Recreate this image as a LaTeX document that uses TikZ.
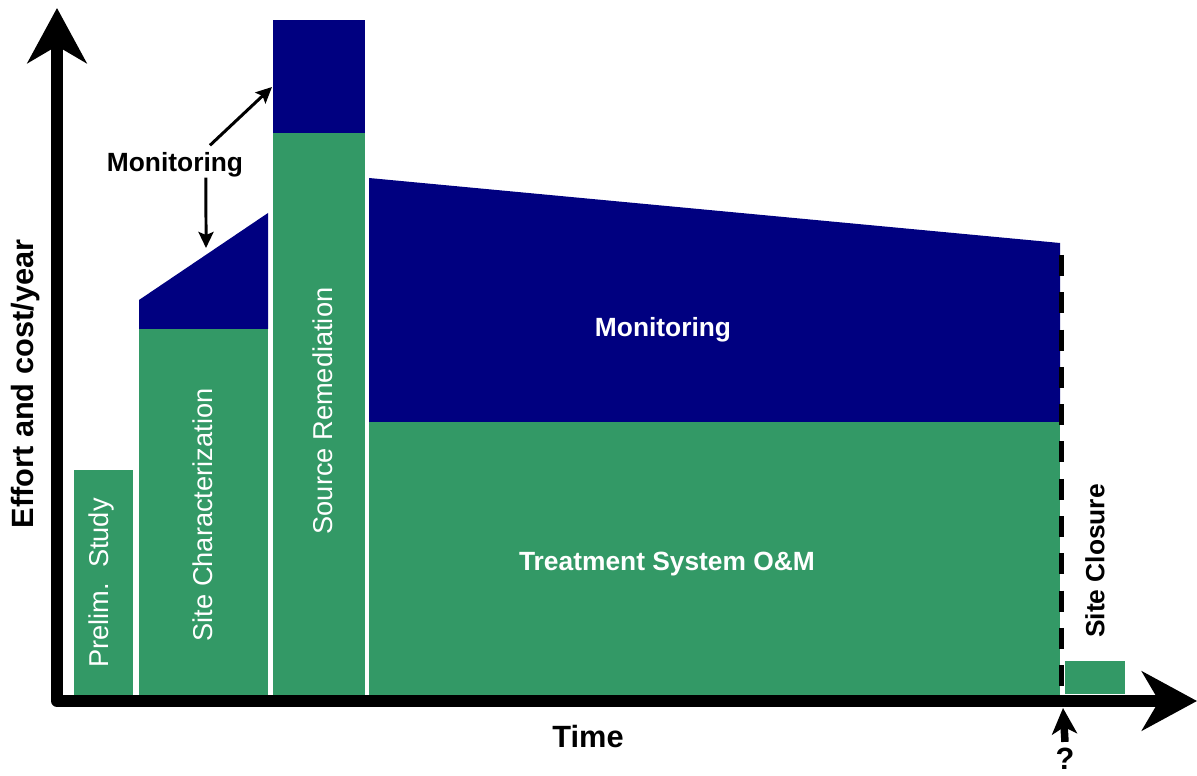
\documentclass[tikz,border=0pt]{standalone}
\usepackage{fontspec}
\setmainfont{Liberation Sans}
\usetikzlibrary{arrows.meta}
\definecolor{phasegreen}{RGB}{51,153,102}
\definecolor{monblue}{RGB}{0,0,128}
\tikzset{
  bigaxis/.style={line width=0.24cm, line join=round,
    {Stealth[length=1.1cm,width=1.18cm,inset=0.34cm]}-{Stealth[length=1.1cm,width=1.18cm,inset=0.34cm]}},
  thinarrow/.style={line width=0.06cm, -{Stealth[length=0.32cm,width=0.3cm,inset=0.06cm]}},
  qarrow/.style={line width=0.15cm, -{Stealth[length=0.52cm,width=0.5cm,inset=0.14cm]}},
  barlabel/.style={text=white, inner sep=0, rotate=90, font=\fontsize{15.5}{18}\selectfont},
  whitelabel/.style={text=white, inner sep=0, font=\bfseries\fontsize{15}{18}\selectfont},
  blacklabel/.style={text=black, inner sep=0, font=\bfseries\fontsize{15}{18}\selectfont},
  axislabel/.style={inner sep=0, font=\bfseries\fontsize{17.5}{21}\selectfont}
}
\begin{document}
\begin{tikzpicture}[x=0.02cm,y=-0.02cm]
            \useasboundingbox (0,0) rectangle (1197,776);
            % phases
            \fill[phasegreen] (74,470) rectangle (133,695);
            \fill[phasegreen] (139,329) rectangle (268,695);
            \fill[monblue] (139,300) -- (268,213) -- (268,329) -- (139,329) -- cycle;
            \fill[monblue] (273,20) rectangle (365,133);
            \fill[phasegreen] (273,133) rectangle (365,695);
            \fill[monblue] (369,178) -- (1060,243) -- (1060,422) -- (369,422) -- cycle;
            \fill[phasegreen] (369,422) rectangle (1060,695);
            \fill[phasegreen] (1065,661) rectangle (1125,694);
            \draw[line width=0.1cm, dash pattern=on 0.42cm off 0.326cm] (1061.5,255) -- (1061.5,695);
            % axes
            \draw[bigaxis] (57,8) -- (57,701) -- (1197,701);
            \node[axislabel, rotate=90] (effort) at (26,384) {Effort and cost/year};
            \node[axislabel] (time) at (588,737) {Time};
            \node[axislabel] (qmark) at (1065,759) {?};
            \coordinate (closetime) at (1063,708);
            \draw[qarrow] ([yshift=0.12cm]qmark.north) -- (closetime);
            % labels
            \node[barlabel] (prelim) at (101,583) {Prelim.\ \ Study};
            \node[barlabel] (sitechar) at (203,515) {Site Characterization};
            \node[barlabel] (source) at (323,411) {Source Remediation};
            \node[whitelabel] (mon) at (663,330) {Monitoring};
            \node[whitelabel] (treat) at (667,564) {Treatment System O\&M};
            \node[blacklabel, rotate=90] (closure) at (1095,561) {Site Closure};
            \node[blacklabel] (monlbl) at (175,165) {Monitoring};
            \coordinate (sourcetop) at (272,87);
            \coordinate (charslope) at (206,248);
            \draw[thinarrow] ([xshift=0.7cm,yshift=0.14cm]monlbl.north) -- (sourcetop);
            \draw[thinarrow] ([xshift=0.62cm]monlbl.south) -- (charslope);
\end{tikzpicture}
\end{document}
